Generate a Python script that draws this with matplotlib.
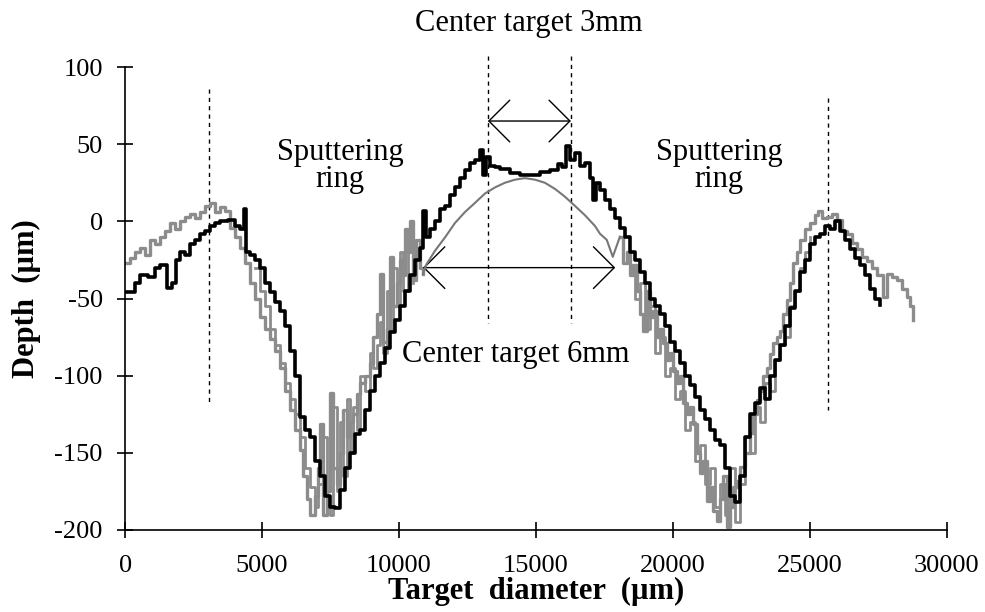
import matplotlib
matplotlib.use("Agg")
import matplotlib.pyplot as plt

plt.rcParams['font.family'] = ['Liberation Serif', 'DejaVu Serif']
plt.rcParams['axes.unicode_minus'] = False

# black trace: center target 3mm
x_3mm = [0, 365, 550, 840, 1100, 1280, 1390, 1530, 1720, 1860, 2010, 2190, 2370, 2560,
         2740, 2920, 3100, 3290, 3470, 3760, 4020, 4200, 4340, 4420, 4560, 4750, 4930,
         5110, 5290, 5480, 5660, 5840, 6020, 6210, 6390, 6570, 6750, 6940, 7120, 7300,
         7480, 7670, 7850, 8030, 8210, 8400, 8580, 8760, 8940, 9130, 9310, 9490, 9670,
         9860, 10040, 10220, 10400, 10590, 10770, 10880, 10990, 11130, 11320, 11500,
         11680, 11860, 12050, 12230, 12410, 12590, 12780, 12960, 13070, 13180, 13320,
         13510, 13690, 14050, 14420, 14780, 15150, 15510, 15810, 15950, 16100, 16240,
         16430, 16610, 16790, 16970, 17080, 17190, 17340, 17520, 17700, 17890, 18070,
         18250, 18430, 18620, 18800, 18980, 19160, 19350, 19530, 19710, 19890, 20080,
         20260, 20440, 20620, 20810, 20990, 21170, 21350, 21540, 21720, 21900, 22080,
         22270, 22450, 22630, 22810, 22990, 23180, 23360, 23540, 23730, 23910, 24090,
         24270, 24460, 24640, 24820, 25000, 25190, 25370, 25550, 25730, 25910, 26100,
         26280, 26460, 26650, 26830, 27010, 27190, 27380, 27560]
y_3mm = [-46, -40, -35, -36, -30, -28, -28, -43, -40, -25, -20, -22, -15, -12,
         -8, -6, -3, -1, 0, 1, -3, -5, 8, -20, -22, -25, -30,
         -40, -46, -52, -58, -68, -84, -100, -127, -135, -140, -155, -165, -178,
         -185, -186, -174, -160, -150, -138, -135, -122, -110, -100, -92, -82, -72,
         -64, -55, -45, -35, -25, -17, 7, -10, -5, 0, 8,
         10, 17, 22, 28, 33, 38, 40, 46, 30, 42, 36,
         35, 34, 31, 30, 30, 32, 33, 37, 35, 49, 40,
         44, 36, 38, 28, 14, 25, 20, 14, 8, 2, -4,
         -10, -20, -25, -33, -40, -50, -55, -60, -68, -78, -84,
         -92, -100, -106, -114, -122, -128, -135, -142, -145, -160, -178,
         -182, -165, -140, -125, -118, -108, -115, -100, -90, -80, -68,
         -56, -45, -33, -25, -15, -10, -8, -3, -5, 0, -6,
         -12, -18, -24, -28, -35, -44, -50, -54]

# gray trace: center target 6mm, left part
x_6mm_left = [0, 180, 370, 550, 730, 910, 1100, 1280, 1460, 1640, 1830, 2010, 2190, 2370,
              2560, 2740, 2920, 3100, 3290, 3470, 3650, 3830, 4020, 4200, 4380, 4560,
              4750, 4930, 5110, 5290, 5480, 5660, 5840, 6020, 6210, 6390, 6500, 6640,
              6750, 6940, 7050, 7120, 7230, 7370, 7480, 7590, 7740, 7850, 7960, 8100,
              8210, 8320, 8470, 8580, 8760, 8940, 9050, 9200, 9310, 9420, 9560, 9670,
              9780, 9930, 10040, 10150, 10220, 10330, 10400, 10510, 10620, 10770, 10880]
y_6mm_left = [-27, -24, -20, -17, -22, -12, -15, -10, -6, -1, -5, 0, 3, 5,
              2, 6, 10, 12, 6, 9, 7, -4, -10, -17, -27, -40,
              -50, -62, -70, -76, -84, -95, -110, -122, -135, -148, -165, -180,
              -190, -178, -160, -131, -190, -175, -111, -160, -170, -150, -122, -140,
              -130, -125, -112, -105, -100, -92, -75, -60, -34, -78, -70, -23,
              -55, -40, -25, -35, -5, -20, 0, -38, -12, -30, -34]

# second gray scan in the left groove
x_6mm_left2 = [4750, 4930, 5110, 5290, 5480, 5660, 5840, 6020, 6210, 6390, 6570, 6750,
               6940, 7050, 7230, 7370, 7480, 7590, 7740, 7850, 7960, 8100, 8210, 8320,
               8470, 8580, 8760, 8940, 9050, 9200, 9310, 9420, 9560, 9670, 9780, 9930,
               10040, 10150, 10330, 10510]
y_6mm_left2 = [-30, -45, -55, -70, -80, -92, -105, -115, -125, -140, -160, -172,
               -185, -170, -140, -185, -190, -120, -175, -130, -165, -115, -150, -120,
               -135, -100, -110, -85, -95, -80, -65, -85, -45, -70, -30, -55,
               -20, -45, -15, -40]

# gray thin curve: center target 6mm, central part
x_6mm_mid = [10880, 11000, 11320, 11700, 12050, 12410, 12780, 13140, 13510, 13870,
             14240, 14600, 14970, 15330, 15700, 16060, 16430, 16790, 17160, 17340,
             17590, 17810, 18070]
y_6mm_mid = [-34, -28, -19, -10, -1, 6, 12, 18, 22, 25,
             27, 28, 27, 25, 21, 16, 10, 4, -3, -8,
             -12, -23, -10]

# gray trace: center target 6mm, right part
x_6mm_right = [18070, 18180, 18320, 18430, 18540, 18690, 18800, 18910, 19050, 19160,
               19270, 19420, 19530, 19640, 19780, 19890, 20010, 20150, 20260, 20370,
               20510, 20620, 20730, 20880, 20990, 21100, 21240, 21350, 21460, 21610,
               21720, 21830, 21970, 22080, 22190, 22340, 22450, 22630, 22810, 22920,
               23070, 23180, 23290, 23430, 23540, 23650, 23800, 23910, 24020, 24160,
               24270, 24380, 24530, 24640, 24820, 25000, 25190, 25290, 25440, 25620,
               25800, 25990, 26170, 26350, 26540, 26720, 26900, 27080, 27260, 27450,
               27670, 27810, 28000, 28180, 28360, 28540, 28650, 28760]
y_6mm_right = [-10, -27, -20, -35, -28, -45, -60, -71, -45, -62,
               -58, -75, -70, -79, -90, -85, -97, -105, -100, -118,
               -125, -120, -131, -150, -163, -155, -181, -172, -188, -194,
               -180, -165, -198, -185, -172, -168, -159, -150, -137, -125,
               -116, -110, -100, -95, -86, -79, -75, -71, -60, -51,
               -40, -27, -20, -12, -5, -1, 4, 7, 2, 3,
               5, 1, -6, -8, -14, -18, -23, -26, -30, -35,
               -49, -34, -36, -38, -44, -49, -55, -64]

# second gray scan in the right groove
x_6mm_right2 = [18430, 18620, 18800, 18980, 19160, 19350, 19530, 19710, 19890, 20080,
                20260, 20440, 20620, 20810, 20990, 21170, 21350, 21540, 21720, 21900,
                22080, 22270, 22450, 22630, 22810, 22990, 23180, 23360, 23540, 23730,
                23910, 24090, 24270, 24460, 24640, 24820, 25000]
y_6mm_right2 = [-30, -50, -40, -70, -55, -85, -75, -100, -95, -115,
                -110, -135, -130, -155, -145, -170, -160, -185, -170, -190,
                -160, -195, -170, -140, -150, -120, -130, -105, -110, -90,
                -80, -75, -55, -45, -30, -20, -10]

ring_marks = [3070, 25660]
center_marks = [13250, 16280]

fig = plt.figure(figsize=(9.85, 6.12), dpi=100)
ax = fig.add_axes([0.127, 0.134, 0.834, 0.7565])

gray = '#8c8c8c'
ax.plot(x_6mm_left2, y_6mm_left2, color=gray, lw=2.0, drawstyle='steps-post', zorder=2)
ax.plot(x_6mm_right2, y_6mm_right2, color=gray, lw=2.0, drawstyle='steps-post', zorder=2)
ax.plot(x_6mm_left, y_6mm_left, color=gray, lw=2.4, drawstyle='steps-post', zorder=2)
ax.plot(x_6mm_right, y_6mm_right, color=gray, lw=2.4, drawstyle='steps-post', zorder=2)
ax.plot(x_3mm, y_3mm, color='black', lw=2.6, drawstyle='steps-post', zorder=3)
ax.plot(x_6mm_mid, y_6mm_mid, color='#777777', lw=1.5, zorder=4)

ax.plot([ring_marks[0]] * 2, [86, -117], color='black', lw=1, ls=(0, (3, 3)), zorder=1)
ax.plot([ring_marks[1]] * 2, [80, -122], color='black', lw=1, ls=(0, (3, 3)), zorder=1)
for xm in center_marks:
    ax.plot([xm, xm], [107, -66], color='black', lw=1, ls=(0, (3, 3)), zorder=1,
            clip_on=False)

arrow = dict(arrowstyle='<->,head_length=0.75,head_width=0.75', color='black', lw=1,
             shrinkA=0, shrinkB=0, mutation_scale=20)
ax.annotate('', xy=(center_marks[0], 65), xytext=(center_marks[1], 65), arrowprops=arrow)
ax.annotate('', xy=(10880, -30), xytext=(17900, -30), arrowprops=arrow)

ax.text(14750, 128, 'Center target 3mm', fontsize=22, ha='center', va='center')
ax.text(14250, -86, 'Center target 6mm', fontsize=22, ha='center', va='center')
ax.text(7850, 36, 'Sputtering\nring', fontsize=22, ha='center', va='center', linespacing=0.9)
ax.text(21700, 36, 'Sputtering\nring', fontsize=22, ha='center', va='center', linespacing=0.9)

ax.set_xlim(0, 30000)
ax.set_ylim(-200, 100)
ax.set_xticks(range(0, 30001, 5000))
ax.set_yticks(range(-200, 101, 50))
ax.spines['top'].set_visible(False)
ax.spines['right'].set_visible(False)
ax.spines['left'].set_linewidth(1.2)
ax.spines['bottom'].set_linewidth(1.2)
ax.tick_params(direction='inout', length=12, width=1.2, labelsize=19, pad=10)
ax.tick_params(axis='x', pad=12)

ax.set_xlabel('Target  diameter  (\u00b5m)', fontsize=22, fontweight='bold', labelpad=0)
ax.set_ylabel('Depth  (\u00b5m)', fontsize=22, fontweight='bold', labelpad=10)

fig.savefig('out.png', dpi=100)
